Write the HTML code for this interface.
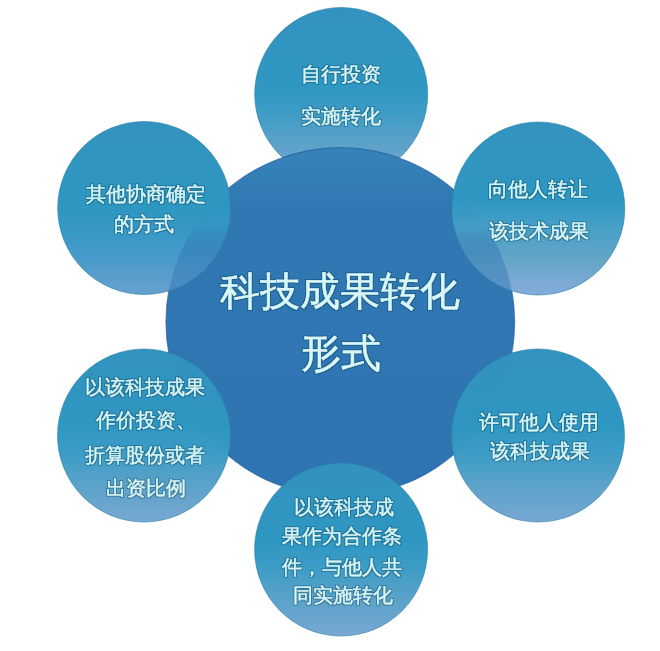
<!DOCTYPE html>
<html><head><meta charset="utf-8">
<style>
html,body{margin:0;padding:0;background:#fff;}
body{width:660px;height:651px;overflow:hidden;font-family:"Liberation Sans",sans-serif;}
svg{display:block}
text{font-family:"Liberation Sans",sans-serif;fill:#d8f7f7;text-anchor:middle;}
.s text{stroke:#d8f7f7;stroke-width:0.25px;}
.c text{stroke:#d8f7f7;stroke-width:0.4px;}
</style></head><body>
<svg width="660" height="651" viewBox="0 0 660 651">
<defs>
<linearGradient id="sg" x1="0" y1="0" x2="0" y2="1">
<stop offset="0" stop-color="#3393bf"/>
<stop offset="0.45" stop-color="#2e97c2"/>
<stop offset="0.6" stop-color="#3c9cc6"/>
<stop offset="0.78" stop-color="#5aa2c9"/>
<stop offset="0.94" stop-color="#70a6cf"/>
<stop offset="1" stop-color="#78a8d4"/>
</linearGradient>
<linearGradient id="sgl" x1="0" y1="0" x2="0" y2="1">
<stop offset="0" stop-color="#3393bf"/>
<stop offset="0.5" stop-color="#2e97c2"/>
<stop offset="0.65" stop-color="#3898c6"/>
<stop offset="0.8" stop-color="#4a9bcb"/>
<stop offset="0.95" stop-color="#609fce"/>
<stop offset="1" stop-color="#66a1d0"/>
</linearGradient>
<linearGradient id="sgr" x1="0" y1="0" x2="0" y2="1">
<stop offset="0" stop-color="#3393bf"/>
<stop offset="0.45" stop-color="#2e97c2"/>
<stop offset="0.62" stop-color="#48a0c8"/>
<stop offset="0.8" stop-color="#64a6c6"/>
<stop offset="0.94" stop-color="#7eaad6"/>
<stop offset="1" stop-color="#82abd8"/>
</linearGradient>
<linearGradient id="cg" x1="0" y1="0" x2="0" y2="1">
<stop offset="0" stop-color="#3683ba"/>
<stop offset="0.07" stop-color="#347fb7"/>
<stop offset="0.16" stop-color="#3078b4"/>
<stop offset="1" stop-color="#2e74b2"/>
</linearGradient>
<filter id="halo" x="-10%" y="-30%" width="120%" height="160%">
<feMorphology in="SourceAlpha" operator="dilate" radius="0.7" result="d"/>
<feGaussianBlur in="d" stdDeviation="0.6" result="b"/>
<feFlood flood-color="#0f4660" flood-opacity="0.45"/>
<feComposite in2="b" operator="in" result="s"/>
<feMerge><feMergeNode in="s"/><feMergeNode in="SourceGraphic"/></feMerge>
</filter>
<clipPath id="cc"><circle cx="340.3" cy="322" r="174.3"/></clipPath>
<linearGradient id="ov" x1="0" y1="0" x2="0" y2="1">
<stop offset="0" stop-color="#3076b4" stop-opacity="0.03"/>
<stop offset="0.6" stop-color="#3076b4" stop-opacity="0.06"/>
<stop offset="0.67" stop-color="#3076b4" stop-opacity="0.38"/>
<stop offset="0.74" stop-color="#3076b4" stop-opacity="0.5"/>
<stop offset="0.85" stop-color="#3076b4" stop-opacity="0.45"/>
<stop offset="1" stop-color="#3076b4" stop-opacity="0.5"/>
</linearGradient>
</defs>
<circle cx="341.2" cy="94" r="86.5" fill="url(#sg)" stroke="#2a7fa6" stroke-opacity="0.6" stroke-width="1"/>
<circle cx="340.3" cy="322" r="174.3" fill="url(#cg)" stroke="#22609e" stroke-opacity="0.7" stroke-width="1.2"/>
<g stroke="#2a7fa6" stroke-opacity="0.6" stroke-width="1">
<circle cx="144.2" cy="208" r="86.5" fill="url(#sgl)"/>
<circle cx="538.3" cy="208.5" r="86.5" fill="url(#sgr)"/>
<circle cx="144" cy="435.5" r="86.5" fill="url(#sg)"/>
<circle cx="538" cy="435.5" r="86.5" fill="url(#sg)"/>
<circle cx="341.1" cy="549.5" r="86.5" fill="url(#sg)"/>
</g>

<g clip-path="url(#cc)" fill="url(#ov)">
<circle cx="144.2" cy="208" r="86.5"/>
<circle cx="538.3" cy="208.5" r="86.5"/>
<circle cx="144" cy="435.5" r="86.5"/>
<circle cx="538" cy="435.5" r="86.5"/>
<circle cx="341.1" cy="549.5" r="86.5"/>
</g>
<g class="s" font-size="20.3" filter="url(#halo)">
<text x="341.3" y="81">自行投资</text>
<text x="341.3" y="122.5">实施转化</text>
<text x="145.5" y="201">其他协商确定</text>
<text x="143.9" y="230.5">的方式</text>
<text x="538.2" y="196">向他人转让</text>
<text x="538.5" y="237.5">该技术成果</text>
<text x="144.5" y="393.5">以该科技成果</text>
<text x="145.6" y="427.4">作价投资、</text>
<text x="145" y="462.4">折算股份或者</text>
<text x="146" y="494.7">出资比例</text>
<text x="539.2" y="429">许可他人使用</text>
<text x="539.8" y="458">该科技成果</text>
<text x="344" y="513.5">以该科技成</text>
<text x="342" y="543">果作为合作条</text>
<text x="342" y="574">件，与他人共</text>
<text x="343.3" y="602">同实施转化</text>
</g>
<g class="c" font-size="40" filter="url(#halo)">
<text x="339.6" y="305">科技成果转化</text>
<text x="341" y="366.5">形式</text>
</g>
</svg>
</body></html>
